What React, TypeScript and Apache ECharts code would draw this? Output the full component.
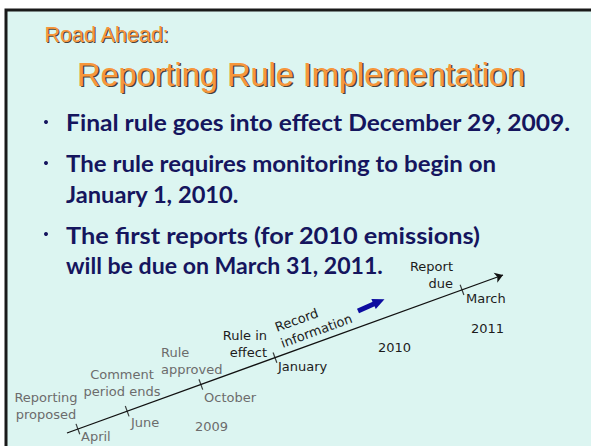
import React, { useEffect, useRef } from "react";
import * as echarts from "echarts";

// ---- content / data ----
const kicker = "Road Ahead:";
const title = "Reporting Rule Implementation";
const bulletLines = [
  ["Final rule goes into effect December 29, 2009."],
  ["The rule requires monitoring to begin on", "January 1, 2010."],
  ["The first reports (for 2010 emissions)", "will be due on March 31, 2011."],
];
const milestoneLabels = ["Reporting\nproposed", "Comment\nperiod ends", "Rule\napproved", "Rule in\neffect", "Report\ndue"];
const monthLabels = ["April", "June", "October", "January", "March"];
const yearLabels = ["2009", "2010", "2011"];
const phaseLabel = "Record\ninformation";
// relative position (0-100) of each milestone tick along the timeline
const tickPositions = [2.5, 13.8, 30.7, 47.7, 90.6];
// milestones that are already past (drawn grey)
const pastCount = 3;

// ---- layout (pixels) ----
const bulletLayout = [
  { dotY: 122, lines: [{ b: 130, w: 505 }] },
  { dotY: 163, lines: [{ b: 171, w: 430 }, { b: 202, w: 173 }] },
  { dotY: 234, lines: [{ b: 243, w: 415 }, { b: 273, w: 317 }] },
];
const milestoneLayout = [
  { x: 46, b: 402, align: "center" },
  { x: 122, b: 379, align: "center" },
  { x: 161, b: 357, align: "left" },
  { x: 267, b: 340, align: "right" },
  { x: 453, b: 271, align: "right" },
];
const monthLayout = [
  { x: 81, b: 441 },
  { x: 131, b: 427 },
  { x: 204, b: 402 },
  { x: 278, b: 371 },
  { x: 466, b: 303 },
];
const yearLayout = [
  { x: 195, b: 431, past: true },
  { x: 378, b: 352, past: false },
  { x: 471, b: 333, past: false },
];

const ORANGE = "#f7963b";
const NAVY = "#15155e";
const GREY = "#6c6c6c";
const DARK = "#1c1c1c";
const SANS = "'Liberation Sans', Arial, sans-serif";
const LABEL_FONT = "'DejaVu Sans', Verdana, sans-serif";
const LFS = 13;
const BULLET_FONT = "Lato, 'Noto Sans', sans-serif";

function measure(text: string, font: string): number {
  const c = document.createElement("canvas").getContext("2d");
  if (!c) return 0;
  c.font = font;
  return c.measureText(text).width;
}

function txt(
  text: string,
  x: number,
  baseline: number,
  fs: number,
  color: string,
  opts: any = {}
) {
  return {
    type: "text",
    x,
    y: baseline - 0.35 * fs,
    z: 10,
    scaleX: opts.scaleX ?? 1,
    style: {
      text,
      fill: color,
      fontSize: fs,
      fontFamily: opts.family ?? SANS,
      fontWeight: opts.weight ?? "normal",
      align: opts.align ?? "left",
      verticalAlign: "middle",
    },
  };
}

function multi(text: string, x: number, baseline: number, lh: number, color: string, align: string) {
  return text
    .split("\n")
    .map((line, i) => txt(line, x, baseline + i * lh, LFS, color, { align, family: LABEL_FONT }));
}

export default function App() {
  const ref = useRef<HTMLDivElement>(null);

  useEffect(() => {
    if (!ref.current) return;
    const chart = echarts.init(ref.current, undefined, { renderer: "svg" });

    const graphics: any[] = [];
    // slide background + frame
    graphics.push({
      type: "rect",
      z: 0,
      shape: { x: 6, y: 10, width: 620, height: 470 },
      style: { fill: "#dcf5f1", stroke: "#1a1a1a", lineWidth: 3 },
    });

    // titles with drop shadow
    const shadow = "rgba(45,35,25,0.85)";
    graphics.push({ ...txt(kicker, 45.5, 44, 21.5, shadow), z: 9 });
    graphics.push(txt(kicker, 44.5, 43, 21.5, ORANGE));
    graphics.push({ ...txt(title, 78.5, 87.5, 32.5, shadow), z: 9 });
    graphics.push(txt(title, 77, 86, 32.5, ORANGE));

    // bullets
    const bfs = 23;
    const bfont = `bold ${bfs}px Lato`;
    bulletLines.forEach((lines, i) => {
      const lay = bulletLayout[i];
      graphics.push({
        type: "circle",
        z: 10,
        shape: { cx: 46, cy: lay.dotY, r: 2 },
        style: { fill: NAVY },
      });
      lines.forEach((line, j) => {
        const m = measure(line, bfont);
        const sx = m > 0 ? lay.lines[j].w / m : 1;
        graphics.push(
          txt(line, 66, lay.lines[j].b, bfs, NAVY, { family: BULLET_FONT, weight: "bold", scaleX: sx })
        );
      });
    });

    // timeline labels
    milestoneLabels.forEach((lab, i) => {
      const l = milestoneLayout[i];
      graphics.push(...multi(lab, l.x, l.b, 17, i < pastCount ? GREY : DARK, l.align));
    });
    monthLabels.forEach((lab, i) => {
      const l = monthLayout[i];
      graphics.push(txt(lab, l.x, l.b, LFS, i < pastCount ? GREY : DARK, { family: LABEL_FONT }));
    });
    yearLabels.forEach((lab, i) => {
      const l = yearLayout[i];
      graphics.push(txt(lab, l.x, l.b, LFS, l.past ? GREY : DARK, { family: LABEL_FONT }));
    });

    // rotated phase label
    graphics.push({
      type: "group",
      x: 277,
      y: 332,
      rotation: (20 * Math.PI) / 180,
      z: 10,
      children: phaseLabel.split("\n").map((line, i) => ({
        type: "text",
        x: 0,
        y: i * 17 - 0.35 * LFS,
        style: {
          text: line,
          fill: DARK,
          fontSize: LFS,
          fontFamily: LABEL_FONT,
          align: "left",
          verticalAlign: "middle",
        },
      })),
    });

    // blue block arrow
    graphics.push({
      type: "group",
      x: 358,
      y: 311,
      rotation: (24 * Math.PI) / 180,
      z: 10,
      children: [
        { type: "rect", shape: { x: 0, y: -2.5, width: 19, height: 5 }, style: { fill: "#0c0ca0" } },
        {
          type: "polygon",
          shape: { points: [[17, -5.5], [29, 0], [17, 5.5]] },
          style: { fill: "#0c0ca0" },
        },
      ],
    });

    chart.setOption({
      animation: false,
      backgroundColor: "transparent",
      grid: { left: 67, top: 275, width: 436, height: 158 },
      xAxis: { type: "value", min: 0, max: 100, show: false },
      yAxis: { type: "value", min: 0, max: 100, show: false },
      graphic: { elements: graphics },
      series: [
        {
          type: "scatter",
          z: 5,
          data: tickPositions.map((p) => [p, p]),
          symbol: "rect",
          symbolSize: [1.2, 11],
          symbolRotate: 20,
          itemStyle: { color: "#111" },
          silent: true,
          markLine: {
            silent: true,
            symbol: ["none", "arrow"],
            symbolSize: 8,
            label: { show: false },
            lineStyle: { color: "#111", width: 1.3, type: "solid" },
            emphasis: { disabled: true },
            data: [[{ coord: [0, 0] }, { coord: [100, 100] }]],
          },
        },
      ],
    });

    return () => chart.dispose();
  }, []);

  return (
    <div
      ref={ref}
      style={{ position: "fixed", left: 0, top: 0, width: 591, height: 446, background: "#ffffff" }}
    />
  );
}
